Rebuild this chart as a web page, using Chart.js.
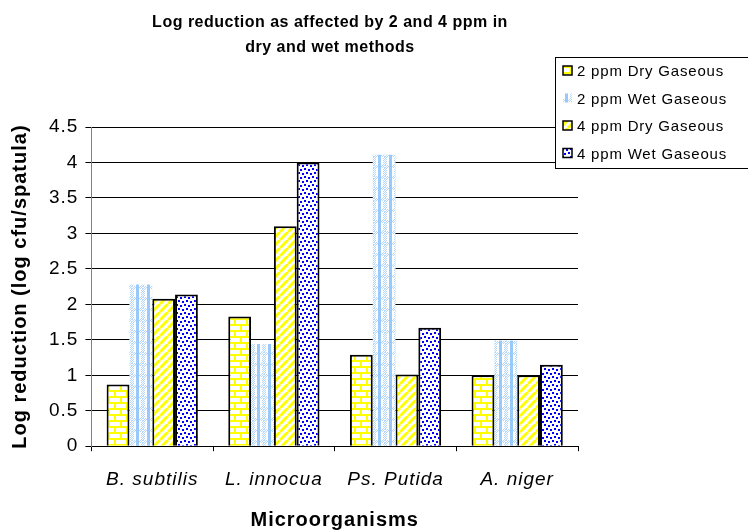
<!DOCTYPE html>
<html lang="en">
  <head>
    <meta charset="UTF-8" />
    <title>Log reduction</title>
    <style>
      body { margin: 0; background: #fff; }
      #wrap { width: 748px; height: 532px; }
    </style>
  </head>
  <body>
    <div id="wrap">
      <canvas id="myChart" width="748" height="532"></canvas>
    </div>
    <script src="https://cdn.jsdelivr.net/npm/chart.js"></script>
    <script>
      const categories = ['B. subtilis', 'L. innocua', 'Ps. Putida', 'A. niger'];
      const seriesNames = ['2 ppm Dry Gaseous', '2 ppm Wet Gaseous', '4 ppm Dry Gaseous', '4 ppm Wet Gaseous'];
      const dry2 = [0.87, 1.83, 1.29, 1.0];
      const wet2 = [2.28, 1.44, 4.11, 1.49];
      const dry4 = [2.08, 3.1, 1.01, 1.0];
      const wet4 = [2.14, 4.0, 1.67, 1.15];
      const yTicks = [0, 0.5, 1, 1.5, 2, 2.5, 3, 3.5, 4, 4.5];

      const FONT = '"Liberation Sans", Arial, sans-serif';

      // small tile canvases used as fill patterns
      const makeTile = (w, h, draw) => {
        const c = document.createElement('canvas');
        c.width = w;
        c.height = h;
        const t = c.getContext('2d');
        t.fillStyle = '#fff';
        t.fillRect(0, 0, w, h);
        draw(t);
        return t.createPattern(c, 'repeat');
      };

      const brick = makeTile(12, 12, (t) => {
        t.fillStyle = '#ffff00';
        t.fillRect(0, 0, 12, 2);
        t.fillRect(0, 6, 12, 2);
        t.fillRect(0, 0, 2, 6);
        t.fillRect(6, 6, 2, 6);
      });

      const check = makeTile(11, 11, (t) => {
        t.fillStyle = '#b4d7fb';
        for (let y = 0; y < 3; y++) {
          for (let x = (y % 2); x < 11; x += 2) t.fillRect(x, y, 1, 1);
        }
        for (let y = 3; y < 11; y++) {
          t.fillRect(y % 2, y, 1, 1);
          t.fillRect(9 + (y % 2), y, 1, 1);
        }
        t.fillStyle = '#99c9fa';
        t.fillRect(4, 0, 3, 11);
      });

      const stripe = makeTile(8, 8, (t) => {
        t.strokeStyle = '#ffff00';
        t.lineWidth = 3;
        t.beginPath();
        for (let k = -8; k <= 16; k += 8) {
          t.moveTo(k, 8);
          t.lineTo(k + 8, 0);
        }
        t.stroke();
      });

      const dots = makeTile(8, 8, (t) => {
        t.fillStyle = '#0000ff';
        t.fillRect(0, 0, 2, 2);
        t.fillRect(4, 1, 2, 2);
        t.fillRect(2, 4, 2, 2);
        t.fillRect(6, 5, 2, 2);
      });

      const fills = [brick, check, stripe, dots];

      // wider tracking on every label the chart draws
      const spacing = {
        id: 'spacing',
        beforeUpdate(chart) { chart.ctx.letterSpacing = '1px'; },
        beforeDraw(chart) { chart.ctx.letterSpacing = '1px'; },
      };

      // title and legend box are painted by hand
      const decor = {
        id: 'decor',
        afterDraw(chart) {
          const ctx = chart.ctx;
          ctx.save();
          ctx.fillStyle = '#000';
          ctx.letterSpacing = '0.5px';
          ctx.font = 'bold 16px ' + FONT;
          ctx.textAlign = 'center';
          ctx.textBaseline = 'middle';
          ctx.fillText('Log reduction as affected by 2 and 4 ppm in', 330, 23);
          ctx.fillText('dry and wet methods', 330, 48);

          const bx = 555, by = 57, bw = 200, bh = 111;
          ctx.fillStyle = '#fff';
          ctx.fillRect(bx, by, bw, bh);
          ctx.strokeStyle = '#000';
          ctx.lineWidth = 1;
          ctx.strokeRect(bx + 0.5, by + 0.5, bw, bh);
          ctx.letterSpacing = '0.8px';
          ctx.font = '15px ' + FONT;
          ctx.textAlign = 'left';
          chart.data.datasets.forEach((ds, i) => {
            const y = by + 14 + i * 27.5;
            ctx.fillStyle = ds.backgroundColor;
            ctx.fillRect(bx + 8, y - 5, 9, 9);
            if (ds.borderWidth) {
              ctx.strokeStyle = '#000';
              ctx.lineWidth = 1.5;
              ctx.strokeRect(bx + 8, y - 5, 9, 9);
            }
            ctx.fillStyle = '#000';
            ctx.fillText(ds.label, bx + 22, y + 1);
          });
          ctx.restore();
        },
      };

      const data = {
        labels: categories,
        datasets: [dry2, wet2, dry4, wet4].map((vals, i) => ({
          label: seriesNames[i],
          data: vals,
          backgroundColor: fills[i],
          borderColor: '#000',
          borderWidth: i === 1 ? 0 : 2,
          barPercentage: 1.0,
          categoryPercentage: 0.75,
        })),
      };

      const config = {
        type: 'bar',
        data: data,
        options: {
          responsive: false,
          animation: false,
          layout: { padding: { left: 4, right: 170, top: 127, bottom: -4 } },
          plugins: {
            legend: { display: false },
            tooltip: { enabled: false },
          },
          scales: {
            x: {
              grid: { display: true, drawOnChartArea: false, color: '#000', tickLength: 5 },
              border: { color: '#000' },
              ticks: { color: '#000', font: { family: FONT, size: 19, style: 'italic' }, padding: 17 },
              title: {
                display: true,
                text: 'Microorganisms',
                color: '#000',
                font: { family: FONT, size: 20, weight: 'bold' },
                padding: { top: 0 },
              },
            },
            y: {
              min: 0,
              max: 4.5,
              afterBuildTicks: (axis) => {
                axis.ticks = yTicks.map((v) => ({ value: v }));
              },
              grid: { color: '#000', tickLength: 6 },
              border: { color: '#808080' },
              ticks: {
                color: '#000',
                font: { family: FONT, size: 19 },
                padding: 7,
                callback: (v) => String(v),
              },
              title: {
                display: true,
                text: 'Log reduction (log cfu/spatula)',
                color: '#000',
                font: { family: FONT, size: 20, weight: 'bold' },
                padding: { bottom: 10 },
              },
            },
          },
        },
        plugins: [spacing, decor],
      };

      const myChart = new Chart(document.getElementById('myChart'), config);
    </script>
  </body>
</html>
